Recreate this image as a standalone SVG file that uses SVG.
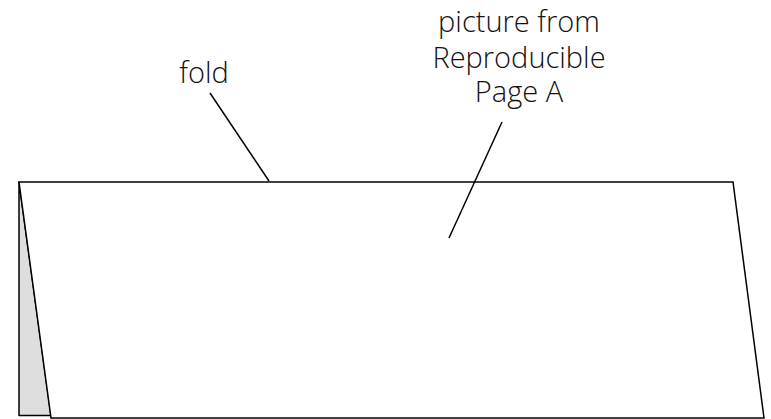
<svg xmlns="http://www.w3.org/2000/svg" width="771" height="419" viewBox="0 0 771 419">
<style>
.lbl{font-family:"Open Sans","Liberation Sans",sans-serif;font-size:29px;font-weight:300;fill:#111;text-anchor:middle}
.ln{stroke:#000;stroke-width:1.5;fill:none}
</style>
<rect width="771" height="419" fill="#fff"/>
<g id="back-panel">
<polygon points="19,182 19,415.5 51,415.5" fill="#dedede" stroke="#000" stroke-width="1.5" stroke-linejoin="round"/>
</g>
<g id="front-panel">
<polygon points="19,182 733,182 764,418 51,418" fill="#fff" stroke="#000" stroke-width="1.5" stroke-linejoin="miter"/>
</g>
<g id="fold-label">
<text class="lbl" x="204" y="83">fold</text>
</g>
<g id="picture-label">
<text class="lbl" x="519" y="32">picture from</text>
<text class="lbl" x="519" y="68">Reproducible</text>
<text class="lbl" x="519" y="102">Page A</text>
</g>
<g id="connectors">
<line class="ln" x1="210" y1="93" x2="269" y2="181"/>
<line class="ln" x1="502" y1="122" x2="449" y2="238"/>
</g>
</svg>
